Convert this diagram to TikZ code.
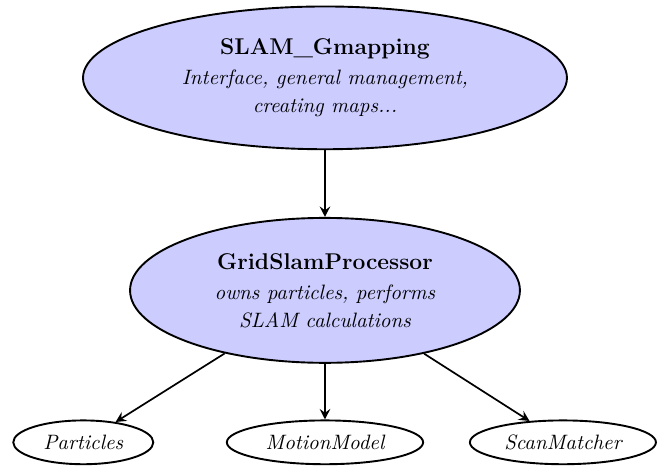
\documentclass[tikz,border=0pt]{standalone}
\usepackage{amsmath}
\usetikzlibrary{shapes.geometric,arrows.meta}

\begin{document}
\begin{tikzpicture}[
  every node/.style={font=\fontsize{10.95}{14.8}\selectfont},
  bignode/.style={ellipse, draw, line width=1pt, fill=blue!20, align=center, inner sep=0pt},
  smallnode/.style={ellipse, draw, line width=1pt, inner sep=0pt, minimum height=0.81cm, font=\fontsize{10.95}{13.6}\selectfont\itshape},
  link/.style={-{Stealth[length=5.5pt, width=5.5pt, inset=2pt]}, line width=0.9pt}]

  \useasboundingbox (0,0) rectangle (12.15,8.60);

  %% Top: main interface
  \node[bignode, minimum width=8.95cm, minimum height=2.64cm] (gmap) at (6.01,7.16)
    {{\fontsize{12}{14.5}\selectfont\bfseries SLAM\_Gmapping}\\[1pt]
     \itshape Interface, general management,\\ \itshape creating maps...};

  %% Middle: processor
  \node[bignode, minimum width=7.21cm, minimum height=2.68cm] (proc) at (6.01,3.23)
    {{\fontsize{12}{14.5}\selectfont\bfseries GridSlamProcessor}\\[1pt]
     \itshape owns particles, performs\\ \itshape SLAM calculations};

  %% Bottom: components
  \node[smallnode, minimum width=2.59cm] (part) at (1.54,0.42) {Particles};
  \node[smallnode, minimum width=3.63cm] (motion) at (6.01,0.42) {MotionModel};
  \node[smallnode, minimum width=3.44cm] (scan) at (10.41,0.42) {ScanMatcher};

  % Connectors
  \draw[link] (gmap) -- (proc);
  \draw[link] (proc) -- (part);
  \draw[link] (proc) -- (motion);
  \draw[link] (proc) -- (scan);

\end{tikzpicture}
\end{document}
